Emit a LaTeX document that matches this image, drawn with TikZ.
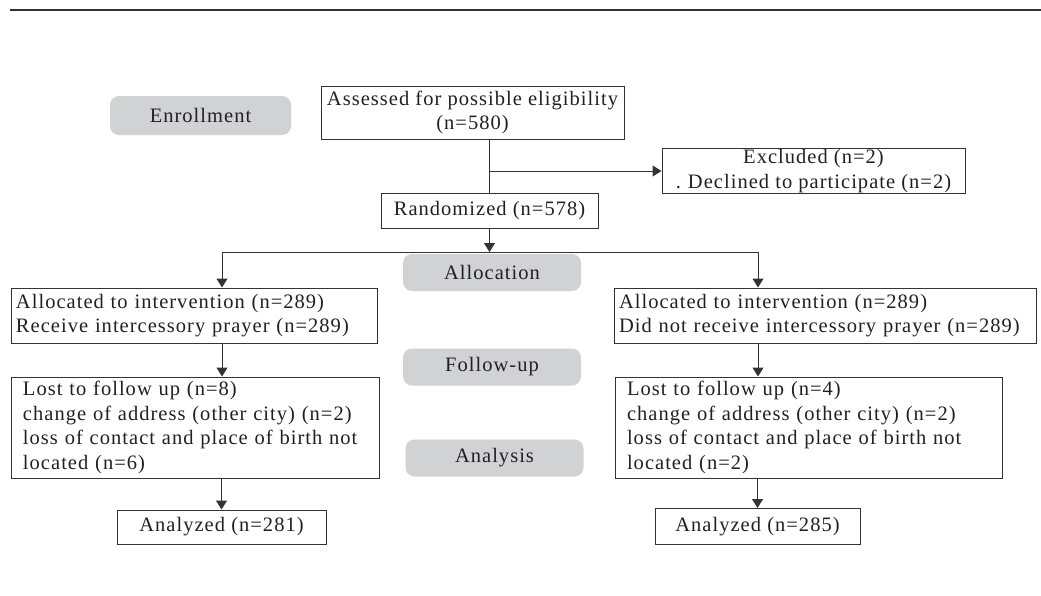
\documentclass[tikz,border=0pt]{standalone}
\usepackage{fontspec}
\setmainfont{Liberation Serif}[LetterSpace=5]
\usetikzlibrary{arrows.meta}
\definecolor{greyfill}{HTML}{D1D2D4}
\definecolor{linec}{HTML}{333333}
\definecolor{textc}{HTML}{231F20}
\begin{document}
\begin{tikzpicture}[x=1pt,y=-1pt,
  font=\fontsize{20.5}{24.5}\selectfont, text=textc,
  cbox/.style={draw=linec, line width=1pt, inner sep=0pt, align=center},
  lbox/.style={draw=linec, line width=1pt, inner ysep=0pt, align=left},
  stage/.style={fill=greyfill, rounded corners=9pt, inner sep=0pt, minimum width=178pt, minimum height=37pt},
  conn/.style={draw=linec, line width=1pt},
  arr/.style={conn, -{Triangle[length=9pt,width=11pt]}}]
\useasboundingbox (0,0) rectangle (1041,595);
\coordinate (rl) at (10,10);
\coordinate (rr) at (1041,10);
\draw[draw=linec, line width=2pt] (rl) -- (rr);

% stage labels
\node[stage, minimum width=181pt, minimum height=39pt] (enroll) at (200.5,115.5) {Enrollment};
\node[stage] (allocation) at (492,272.5) {Allocation};
\node[stage] (follow) at (492,367) {Follow-up};
\node[stage] (analysis) at (494.5,458) {Analysis};

% boxes
\node[cbox, minimum width=303pt, minimum height=53pt] (assess) at (472.5,112.5) {\raisebox{-2pt}{Assessed for possible eligibility}\\\raisebox{-2pt}{(n=580)}};
\node[cbox, minimum width=303pt, minimum height=45pt] (excl) at (813.5,171) {Excluded (n=2)\\.\hspace{7pt}Declined to participate (n=2)};
\node[cbox, minimum width=217pt, minimum height=35pt] (rand) at (489.5,210.5) {Randomized (n=578)};

\node[lbox, inner xsep=5pt, text width=356pt, minimum height=55pt] (allocL) at (194,315.5) {Allocated to intervention (n=289)\\Receive intercessory prayer (n=289)};
\node[lbox, inner xsep=5pt, text width=412pt, minimum height=55pt] (allocR) at (825,315.5) {Allocated to intervention (n=289)\\Did not receive intercessory prayer (n=289)};

\node[lbox, inner xsep=12pt, text width=344pt, minimum height=101pt] (lostL) at (195,427.5) {Lost to follow up (n=8)\\change of address (other city) (n=2)\\loss of contact and place of birth not\\located (n=6)};
\node[lbox, inner xsep=12pt, text width=363pt, minimum height=101pt] (lostR) at (808.5,427.5) {Lost to follow up (n=4)\\change of address (other city) (n=2)\\loss of contact and place of birth not\\located (n=2)};

\node[cbox, minimum width=209pt, minimum height=34pt] (anaL) at (221.5,527) {Analyzed (n=281)};
\node[cbox, minimum width=205pt, minimum height=36pt] (anaR) at (757.5,526.5) {Analyzed (n=285)};

% connectors
\draw[conn] (rand.north |- assess.south) -- (rand.north);
\coordinate (br) at (rand.north |- excl.west);
\draw[arr] (br) -- (excl.west);
\coordinate (sL) at (222,252);
\coordinate (sR) at (758,252);
\draw[arr] (rand.south) -- (rand.south |- sL);
\draw[conn] (sL) -- (sR);
\draw[arr] (sL) -- (sL |- allocL.north);
\draw[arr] (sR) -- (sR |- allocR.north);
\draw[arr] (sL |- allocL.south) -- (sL |- lostL.north);
\draw[arr] (sR |- allocR.south) -- (sR |- lostR.north);
\draw[arr] (anaL.north |- lostL.south) -- (anaL.north);
\draw[arr] (anaR.north |- lostR.south) -- (anaR.north);
\end{tikzpicture}
\end{document}
